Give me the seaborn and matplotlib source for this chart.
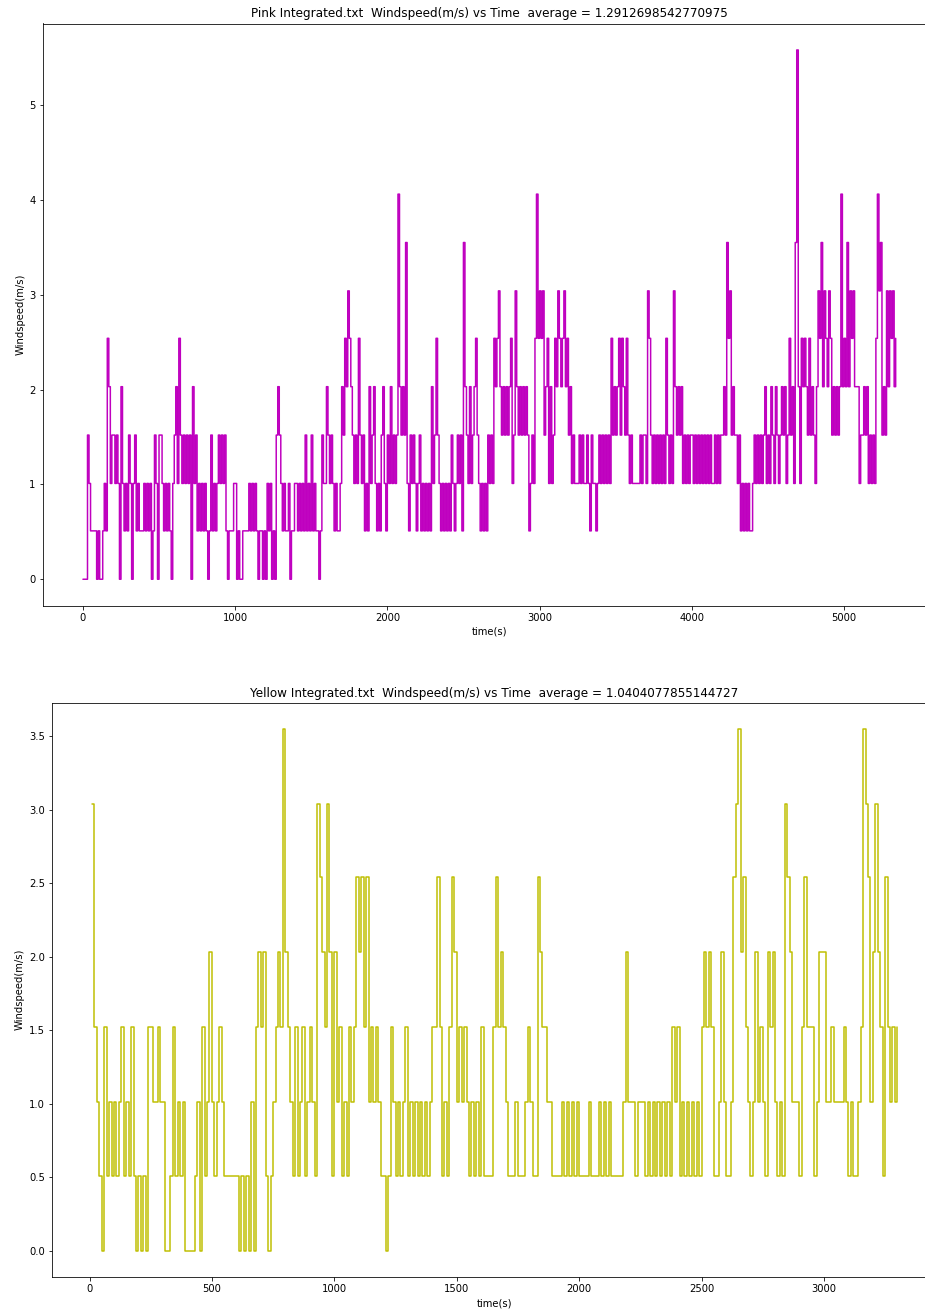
import numpy as np
import pandas as pd
import matplotlib
matplotlib.use("Agg")
import matplotlib.pyplot as plt
import seaborn as sns

# ---------------- data ----------------
pink_title = "Pink Integrated.txt  Windspeed(m/s) vs Time  average = 1.2912698542770975"
yellow_title = "Yellow Integrated.txt  Windspeed(m/s) vs Time  average = 1.0404077855144727"

# Pink: one reading every 10 s, starting at t = 0 s (20 readings per line)
pink_start = 0
pink_interval = 10
pink_speed = [
    0, 0, 0, 1.52, 1.01, 0.51, 0.51, 0.51, 0.51, 0, 0.51, 0, 0, 0.51, 1.01, 0.51, 2.54, 2.03, 1.01, 1.52,
    1.52, 1.01, 1.52, 1.01, 0, 2.03, 1.01, 0.51, 1.01, 0.51, 1.52, 1.01, 0, 1.01, 1.52, 0.51, 1.01, 0.51, 0.51, 0.51,
    1.01, 0.51, 1.01, 0.51, 1.01, 0, 0.51, 1.52, 1.01, 0, 1.52, 1.52, 1.01, 0.51, 1.01, 0.51, 1.01, 0.51, 0, 1.01,
    1.52, 2.03, 1.01, 2.54, 1.52, 1.01, 1.52, 1.01, 1.52, 1.01, 1.52, 0, 2.03, 1.01, 1.52, 0.51, 1.01, 0.51, 1.01, 0.51,
    1.01, 0.51, 0, 0.51, 1.52, 0.51, 1.01, 0.51, 1.01, 1.52, 1.01, 1.52, 1.01, 1.52, 0.51, 0, 0.51, 0.51, 0.51, 1.01,
    1.01, 0, 0.51, 0, 0, 0.51, 0.51, 0.51, 0.51, 1.01, 0.51, 1.01, 0.51, 1.01, 0.51, 0, 0.51, 0.51, 0, 0.51,
    0, 1.01, 0.51, 1.01, 0, 0.51, 0, 1.52, 2.03, 1.52, 1.01, 0.51, 1.01, 0.51, 0.51, 1.01, 0, 0.51, 0.51, 1.01,
    1.01, 0.51, 1.01, 0.51, 1.01, 0.51, 1.52, 0.51, 1.01, 0.51, 1.52, 0.51, 1.01, 0.51, 0.51, 0, 0.51, 1.52, 1.01, 1.01,
    2.03, 1.52, 1.01, 1.52, 1.01, 0.51, 1.01, 0.51, 0.51, 1.01, 2.03, 1.52, 2.54, 2.03, 3.04, 2.54, 2.03, 1.52, 1.01, 1.52,
    1.01, 2.54, 1.52, 1.01, 1.52, 0.51, 1.01, 0.51, 2.03, 1.01, 1.52, 2.03, 1.01, 0.51, 1.01, 0.51, 1.52, 2.03, 1.01, 0.51,
    1.52, 1.01, 2.03, 1.01, 1.52, 1.01, 1.52, 4.06, 2.03, 1.52, 2.03, 1.52, 3.55, 1.01, 0.51, 1.52, 1.01, 1.52, 1.01, 0.51,
    1.01, 1.52, 0.51, 1.01, 0.51, 1.01, 0.51, 1.01, 0.51, 2.03, 1.01, 1.52, 2.54, 1.52, 1.01, 0.51, 1.01, 0.51, 1.01, 0.51,
    1.01, 0.51, 1.52, 1.01, 0.51, 1.01, 1.52, 1.01, 1.52, 0.51, 3.55, 2.03, 1.52, 1.01, 2.03, 1.01, 1.52, 2.03, 2.54, 1.52,
    1.01, 0.51, 1.01, 0.51, 1.01, 0.51, 1.52, 1.01, 1.52, 1.01, 2.54, 2.03, 2.54, 3.04, 2.03, 1.52, 2.03, 1.52, 2.03, 1.52,
    2.03, 2.54, 1.01, 1.52, 3.04, 2.03, 1.52, 2.03, 1.52, 2.03, 1.52, 2.03, 1.52, 0.51, 1.01, 1.52, 1.01, 2.54, 4.06, 2.54,
    3.04, 2.54, 3.04, 1.52, 2.03, 2.54, 1.01, 2.03, 1.01, 1.52, 2.54, 2.03, 3.04, 2.54, 2.03, 2.54, 3.04, 2.03, 2.54, 1.52,
    2.03, 1.01, 1.52, 1.01, 1.01, 1.01, 1.52, 1.01, 1.52, 1.01, 1.01, 1.52, 1.01, 0.51, 1.52, 1.01, 1.01, 0.51, 1.01, 1.52,
    1.01, 1.52, 1.01, 1.52, 1.01, 1.52, 1.01, 2.54, 1.52, 2.03, 1.52, 2.03, 2.54, 1.52, 2.54, 2.03, 1.52, 2.54, 1.52, 1.01,
    1.52, 1.01, 1.01, 1.01, 1.01, 1.01, 1.52, 1.01, 1.52, 1.52, 1.01, 3.04, 2.54, 1.52, 1.01, 1.52, 1.01, 1.52, 1.01, 1.52,
    1.01, 1.52, 1.01, 2.54, 1.52, 1.01, 1.52, 1.01, 3.04, 2.03, 1.52, 2.03, 1.52, 2.03, 1.01, 1.52, 1.01, 1.52, 1.01, 1.52,
    1.52, 1.01, 1.52, 1.01, 1.52, 1.01, 1.52, 1.01, 1.52, 1.01, 1.52, 1.01, 1.52, 1.01, 1.01, 1.52, 1.01, 1.52, 1.01, 1.52,
    1.52, 2.03, 1.52, 3.55, 2.54, 3.04, 1.52, 2.03, 1.52, 1.52, 1.01, 1.52, 0.51, 1.01, 0.51, 1.01, 0.51, 1.01, 0.51, 0.51,
    1.01, 1.52, 1.01, 1.52, 1.01, 1.52, 1.01, 1.52, 2.03, 1.01, 1.52, 1.01, 2.03, 1.52, 1.01, 2.03, 1.52, 1.01, 1.52, 2.03,
    1.52, 2.03, 1.01, 1.52, 2.54, 1.52, 2.03, 1.01, 3.55, 5.58, 2.03, 1.01, 2.54, 2.03, 2.54, 2.03, 1.52, 2.54, 1.52, 2.03,
    1.52, 1.01, 2.03, 3.04, 2.54, 3.55, 2.03, 3.04, 2.54, 2.03, 3.04, 2.54, 1.52, 2.03, 1.52, 2.03, 1.52, 2.03, 4.06, 2.03,
    2.54, 2.03, 3.55, 2.03, 3.04, 2.54, 3.04, 2.03, 2.03, 2.03, 1.01, 1.52, 1.52, 2.03, 1.52, 2.03, 1.01, 1.52, 1.01, 1.52,
    1.01, 2.54, 4.06, 3.04, 3.55, 1.52, 2.03, 1.52, 3.04, 2.03, 3.04, 2.54, 3.04, 2.03, 2.54,
]

# Yellow: one reading every 10 s, starting at t = 10 s (10 readings per line)
yellow_start = 10
yellow_interval = 10
yellow_speed = [
    3.04, 1.52, 1.01, 0.51, 0, 1.52, 0.51, 1.01, 0.51, 1.01,
    0.51, 1.01, 1.52, 0.51, 1.01, 0.51, 1.52, 0.51, 0, 0.51,
    0, 0.51, 0, 1.52, 1.52, 1.01, 1.01, 1.52, 1.01, 1.01,
    0, 0, 0.51, 1.52, 0.51, 1.01, 0.51, 1.01, 0, 0,
    0, 0, 0.51, 1.01, 0, 1.52, 0.51, 1.01, 2.03, 1.01,
    0.51, 1.01, 1.52, 1.01, 0.51, 0.51, 0.51, 0.51, 0.51, 0.51,
    0, 0.51, 0, 0.51, 0, 1.01, 0, 1.52, 2.03, 1.52,
    2.03, 0.51, 0, 0.51, 1.01, 1.52, 2.03, 1.52, 3.55, 2.03,
    1.52, 1.01, 0.51, 1.52, 0.51, 1.01, 1.52, 0.51, 1.01, 1.52,
    1.01, 0.51, 3.04, 2.54, 2.03, 1.52, 3.04, 2.03, 0.51, 2.03,
    1.01, 1.52, 0.51, 1.01, 0.51, 1.52, 1.01, 1.52, 2.54, 2.03,
    2.54, 1.52, 2.54, 1.01, 1.52, 1.01, 1.52, 1.01, 0.51, 0.51,
    0, 0.51, 1.52, 1.01, 0.51, 1.01, 0.51, 1.01, 1.52, 0.51,
    1.01, 0.51, 1.01, 0.51, 1.01, 0.51, 1.01, 0.51, 1.01, 1.52,
    1.52, 2.54, 1.52, 0.51, 1.01, 0.51, 1.52, 2.54, 2.03, 1.01,
    1.52, 1.01, 1.52, 1.01, 0.51, 1.01, 0.51, 1.01, 0.51, 1.52,
    0.51, 0.51, 0.51, 0.51, 1.52, 2.54, 1.52, 2.03, 1.52, 1.01,
    0.51, 0.51, 0.51, 1.01, 0.51, 0.51, 0.51, 1.01, 1.52, 1.01,
    0.51, 0.51, 2.54, 2.03, 1.52, 1.52, 1.01, 1.01, 0.51, 0.51,
    0.51, 0.51, 1.01, 0.51, 1.01, 0.51, 1.01, 0.51, 1.01, 0.51,
    0.51, 0.51, 0.51, 1.01, 0.51, 0.51, 0.51, 1.01, 0.51, 1.01,
    0.51, 1.01, 0.51, 0.51, 0.51, 0.51, 0.51, 1.01, 2.03, 1.01,
    1.01, 1.01, 0.51, 1.01, 1.01, 1.01, 0.51, 1.01, 0.51, 1.01,
    0.51, 1.01, 0.51, 1.01, 0.51, 1.01, 0.51, 1.52, 1.01, 1.52,
    0.51, 1.01, 0.51, 1.01, 0.51, 1.01, 0.51, 1.01, 0.51, 1.52,
    2.03, 1.52, 2.03, 1.52, 0.51, 0.51, 1.01, 2.03, 1.01, 0.51,
    0.51, 1.01, 2.54, 3.04, 3.55, 2.03, 2.54, 1.52, 1.01, 0.51,
    1.01, 2.03, 1.01, 1.52, 1.01, 0.51, 2.03, 1.52, 2.03, 1.01,
    0.51, 1.01, 0.51, 3.04, 2.54, 2.03, 1.01, 1.01, 1.01, 0.51,
    1.52, 2.54, 1.52, 1.52, 1.52, 0.51, 1.01, 2.03, 2.03, 2.03,
    1.01, 1.01, 1.52, 1.01, 1.01, 1.01, 1.01, 1.52, 1.01, 0.51,
    1.01, 0.51, 0.51, 1.01, 1.52, 3.55, 3.04, 2.54, 1.01, 2.03,
    3.04, 2.03, 1.52, 0.51, 2.54, 1.52, 1.01, 1.52, 1.01, 1.52,
]

pink_df = pd.DataFrame({
    "time(s)": pink_start + pink_interval * np.arange(len(pink_speed)),
    "Windspeed(m/s)": pink_speed,
})
yellow_df = pd.DataFrame({
    "time(s)": yellow_start + yellow_interval * np.arange(len(yellow_speed)),
    "Windspeed(m/s)": yellow_speed,
})

# ---------------- style ----------------
sns.set_style("ticks")
plt.rcParams.update({
    "font.family": ["DejaVu Sans"],
    "font.size": 10,
    "axes.titlesize": 12,
    "axes.labelsize": 10,
    "xtick.labelsize": 10,
    "ytick.labelsize": 10,
    "axes.edgecolor": "black",
    "axes.linewidth": 0.8,
    "xtick.major.size": 3.5,
    "ytick.major.size": 3.5,
    "xtick.major.width": 0.8,
    "ytick.major.width": 0.8,
    "xtick.color": "black",
    "ytick.color": "black",
    "text.color": "black",
    "axes.labelcolor": "black",
})

W, H = 925, 1312
DPI = 72
fig = plt.figure(figsize=(W / DPI, H / DPI), dpi=DPI)


def px_axes(left, top, right, bottom):
    return fig.add_axes([left / W, 1 - bottom / H, (right - left) / W, (bottom - top) / H])


ax1 = px_axes(42.6, 23.5, 936, 605.7)
ax2 = px_axes(51.8, 702.5, 936.8, 1277)

sns.lineplot(data=pink_df, x="time(s)", y="Windspeed(m/s)", ax=ax1,
             color="#bf00bf", linewidth=1.5, drawstyle="steps-post",
             estimator=None, sort=False)
sns.lineplot(data=yellow_df, x="time(s)", y="Windspeed(m/s)", ax=ax2,
             color="#bfbf00", linewidth=1.5, drawstyle="steps-post",
             estimator=None, sort=False)

ax1.set_xlim(-265, 5605)
ax1.set_ylim(-0.279, 5.859)
ax1.set_xticks([0, 1000, 2000, 3000, 4000, 5000])
ax1.set_yticks([0, 1, 2, 3, 4, 5])
ax1.set_title(pink_title)

ax2.set_xlim(-154, 3461)
ax2.set_ylim(-0.1775, 3.7275)
ax2.set_xticks([0, 500, 1000, 1500, 2000, 2500, 3000])
ax2.set_yticks([0.0, 0.5, 1.0, 1.5, 2.0, 2.5, 3.0, 3.5])
ax2.yaxis.set_major_formatter(matplotlib.ticker.FormatStrFormatter("%.1f"))
ax2.set_title(yellow_title)

for ax in (ax1, ax2):
    ax.set_xlabel("time(s)")
    ax.set_ylabel("Windspeed(m/s)")
    for s in ax.spines.values():
        s.set_visible(True)
        s.set_color("black")
        s.set_linewidth(0.8)

fig.savefig("out.png", dpi=DPI)
